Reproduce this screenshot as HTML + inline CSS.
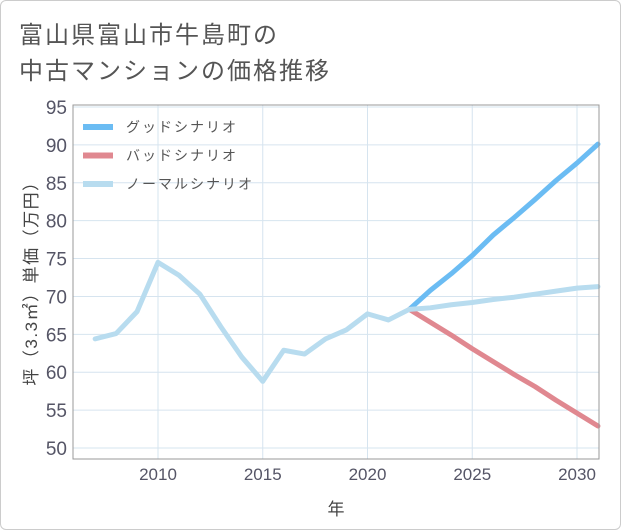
<!DOCTYPE html>
<html><head><meta charset="utf-8"><style>
body{margin:0;background:#fff;}
#wrap{position:relative;width:619px;height:528px;border:1px solid #ccc;border-radius:6px;overflow:hidden;font-family:"Liberation Sans","Noto Sans CJK JP",sans-serif;}
</style></head><body>
<div id="wrap">
<svg id="chart" width="621" height="530">
<text x="18" y="42" font-size="24" letter-spacing="2" fill="#555">富山県富山市牛島町の</text>
<text x="18" y="78" font-size="24" letter-spacing="2" fill="#555">中古マンションの価格推移</text>
<g id="grid"></g><g id="series"></g><g id="axes"></g>
<text x="335" y="514" font-size="17" fill="#444" text-anchor="middle">年</text>
<text transform="translate(36,278) rotate(-90)" font-size="17" letter-spacing="1.5" fill="#444" text-anchor="middle">坪（3.3㎡）単価（万円）</text>
</svg>
</div>
<script>
const years=[2007,2008,2009,2010,2011,2012,2013,2014,2015,2016,2017,2018,2019,2020,2021,2022,2023,2024,2025,2026,2027,2028,2029,2030,2031];
const normalVals=[64.4,65.1,68,74.5,72.8,70.3,66,62,58.8,62.9,62.4,64.4,65.6,67.7,66.9,68.3,68.5,68.9,69.2,69.6,69.9,70.3,70.7,71.1,71.3];
const futureYears=[2022,2023,2024,2025,2026,2027,2028,2029,2030,2031];
const goodVals=[68.3,70.8,73,75.4,78.1,80.4,82.8,85.3,87.6,90.1];
const badVals=[68.3,66.6,64.9,63.1,61.4,59.7,58.1,56.3,54.6,52.9];
const yTicks=[50,55,60,65,70,75,80,85,90,95];
const xTicks=[2010,2015,2020,2025,2030];
const NS="http://www.w3.org/2000/svg";
const L=72,R=598,T=104,B=458;
const x=v=>157+(v-2010)*20.95;
const y=v=>447-(v-50)*(341/45);
function mk(tag,attrs,parent){const e=document.createElementNS(NS,tag);for(const k in attrs)e.setAttribute(k,attrs[k]);parent.appendChild(e);return e;}
const grid=document.getElementById('grid'),axes=document.getElementById('axes'),ser=document.getElementById('series');
yTicks.forEach(t=>{
 const l=mk('line',{x1:L,x2:R,y1:y(t),y2:y(t),stroke:'#d6e4ef','stroke-width':1},grid);
 
 
 const tx=mk('text',{x:L-6,y:y(t)+7,'font-size':19,fill:'#556','text-anchor':'end'},axes);
 tx.textContent=t;
 
 
});
xTicks.forEach(t=>{
 const l=mk('line',{x1:x(t),x2:x(t),y1:T,y2:B,stroke:'#d6e4ef','stroke-width':1},grid);
 
 
 const tx=mk('text',{x:x(t),y:B+21,'font-size':17,fill:'#556','text-anchor':'middle'},axes);
 tx.textContent=t;
 
 
});
const fr=mk('rect',{x:L,y:T,width:R-L,height:B-T,fill:'none',stroke:'#999','stroke-width':1},axes);


function line(xs,vs,color,name){
 const p=mk('polyline',{points:xs.map((v,i)=>x(v)+','+y(vs[i])).join(' '),fill:'none',stroke:color,'stroke-width':5,'stroke-linejoin':'round','stroke-linecap':'round'},ser);
 
 
}
line(futureYears,goodVals,'#6bbcf3','good-scenario-line');
line(futureYears,badVals,'#e08890','bad-scenario-line');
line(years,normalVals,'#b8dcef','normal-scenario-line');
const leg=[['グッドシナリオ','#6bbcf3'],['バッドシナリオ','#e08890'],['ノーマルシナリオ','#b8dcef']];
leg.forEach((d,i)=>{
 const yy=126+i*28.5;
 const r=mk('rect',{x:L+10,y:yy-3,width:30,height:6,fill:d[1]},axes);
 
 
 const t=mk('text',{x:L+53,y:yy+5,'font-size':14,'letter-spacing':2,fill:'#555'},axes);
 t.textContent=d[0];
 
 
});
</script>
</body></html>
